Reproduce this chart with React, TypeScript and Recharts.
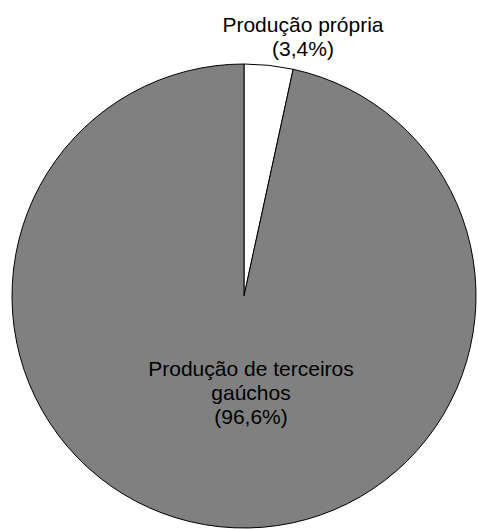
import { PieChart, Pie, Cell } from 'recharts'

const categories = ['Produção própria', 'Produção de terceiros gaúchos']
const shares = [3.4, 96.6]
const labelLines = [['Produção própria'], ['Produção de terceiros', 'gaúchos']]
const sliceColors = ['#ffffff', '#808080']

const data = categories.map((name, i) => ({ name, value: shares[i] }))

// label anchor offsets from the pie centre, and the line step
const labelOffsets = [
  { dx: 59, dy: -264 },
  { dx: 7, dy: 80 },
]
const lineStep = 24

const fmt = (v: number) => `(${v.toFixed(1).replace('.', ',')}%)`

function renderLabel(props: any) {
  const { cx, cy, index, value } = props
  const off = labelOffsets[index]
  const lines = [...labelLines[index], fmt(value)]
  return (
    <text
      key={`lbl-${index}`}
      x={cx + off.dx}
      y={cy + off.dy}
      textAnchor="middle"
      fontFamily="'Liberation Sans', Arial, sans-serif"
      fontSize={21}
      fill="#000"
    >
      {lines.map((t, i) => (
        <tspan key={i} x={cx + off.dx} y={cy + off.dy + i * lineStep}>
          {t}
        </tspan>
      ))}
    </text>
  )
}

export default function App() {
  return (
    <div style={{ position: 'absolute', left: 0, top: 0, width: 478, height: 529, background: '#fff' }}>
      <PieChart width={478} height={529} margin={{ top: 0, right: 0, bottom: 0, left: 0 }}>
        <Pie
          data={data}
          dataKey="value"
          nameKey="name"
          cx={244}
          cy={296}
          outerRadius={232}
          startAngle={90}
          endAngle={-270}
          stroke="#000"
          strokeWidth={1}
          label={renderLabel}
          labelLine={false}
          isAnimationActive={false}
        >
          {data.map((d, i) => (
            <Cell key={d.name} fill={sliceColors[i]} />
          ))}
        </Pie>
      </PieChart>
    </div>
  )
}
